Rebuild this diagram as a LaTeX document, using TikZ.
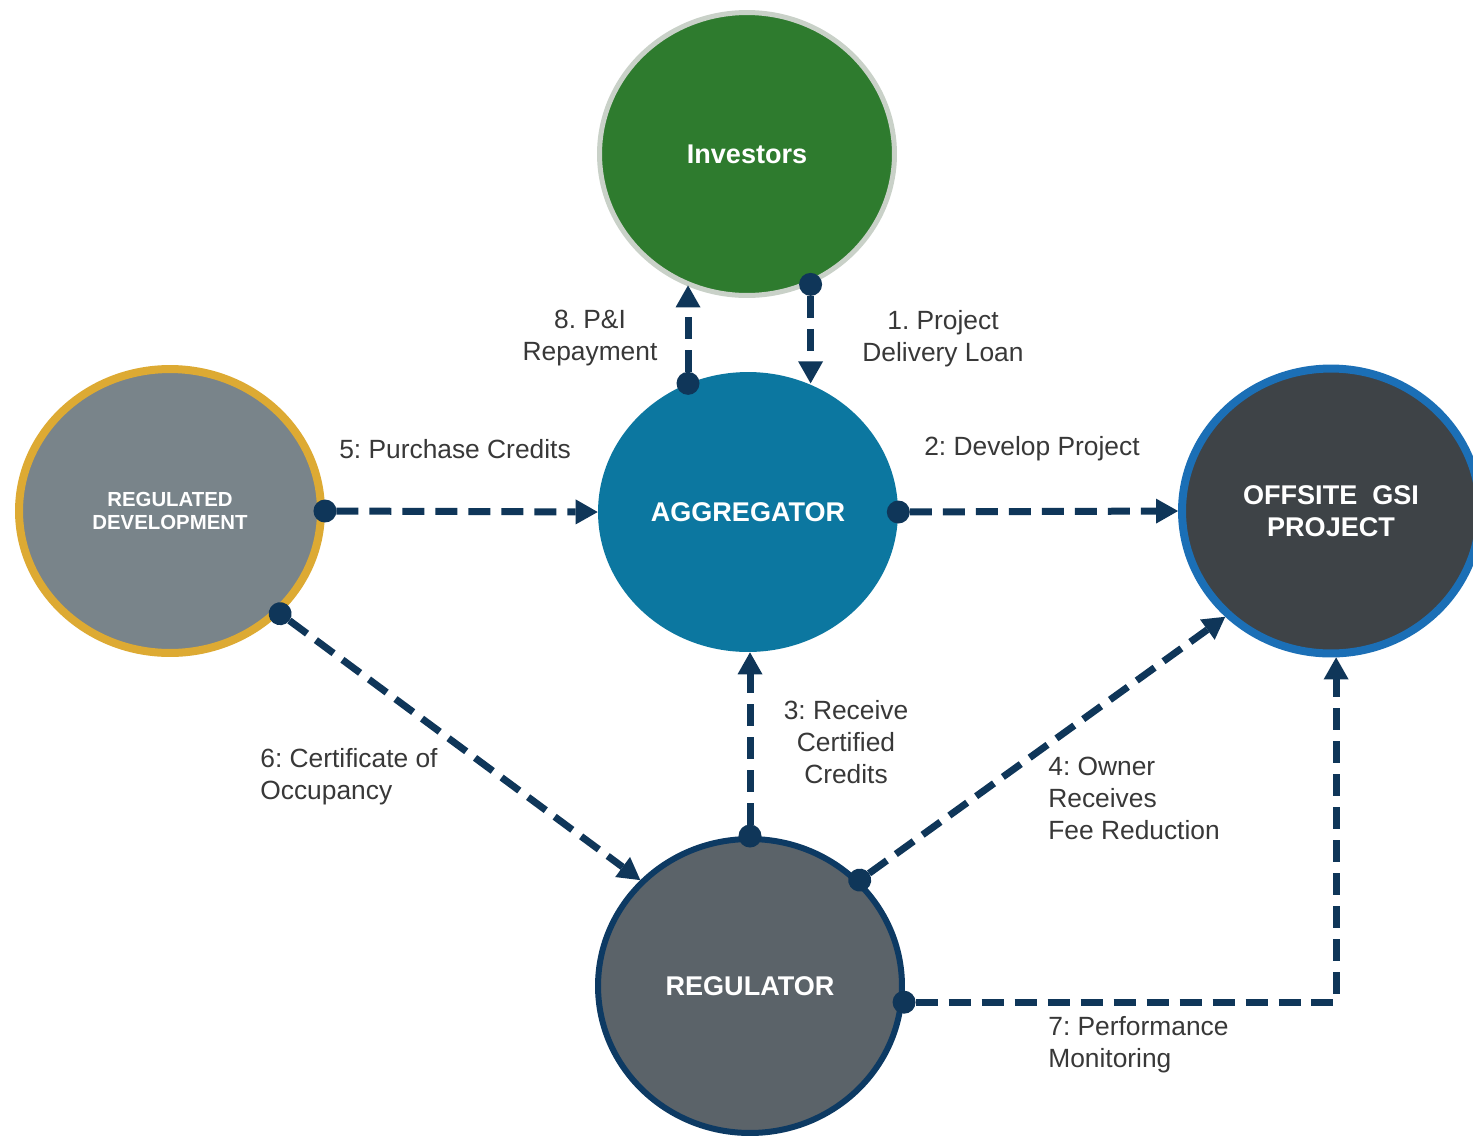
\documentclass[tikz,border=0pt]{standalone}
\usepackage{fontspec}
\setmainfont{Liberation Sans}
\usetikzlibrary{arrows.meta,shapes.geometric}
\frenchspacing

\definecolor{invgreen}{HTML}{2E7B2E}
\definecolor{invring}{HTML}{C9D1C8}
\definecolor{aggblue}{HTML}{0C77A0}
\definecolor{devgray}{HTML}{79848A}
\definecolor{devgold}{HTML}{DDAA33}
\definecolor{gsidark}{HTML}{3E4347}
\definecolor{gsiblue}{HTML}{1B6FB6}
\definecolor{reggray}{HTML}{5B6369}
\definecolor{regnavy}{HTML}{0D3A63}
\definecolor{flowc}{HTML}{0F3659}
\definecolor{labelc}{HTML}{383838}

\tikzset{
  ball/.style={ellipse, inner sep=0pt, text=white, align=center,
    font=\bfseries\fontsize{15.4}{18.2}\selectfont},
  flow/.style={draw=flowc, line width=0.14cm,
    dash pattern=on 0.44cm off 0.22cm,
    {Circle[length=0.46cm,line width=0pt]}-{Triangle[length=0.44cm,width=0.5cm,line width=0pt]},
    shorten <=-0.23cm},
  lbl/.style={text=labelc, inner sep=0pt, align=center,
    font=\fontsize{15}{18.2}\selectfont}
}

\begin{document}
\begin{tikzpicture}[x=0.02cm,y=-0.02cm]
  \fill[white] (0,0) rectangle (1473,1140);
  \useasboundingbox (0,0) rectangle (1473,1140);
  \clip (0,0) rectangle (1473,1140);

  % parties
  \node[ball, fill=invgreen, draw=invring, line width=0.1cm,
        minimum width=5.9cm, minimum height=5.66cm] (inv) at (747,154) {Investors};
  \node[ball, fill=aggblue,
        minimum width=6cm, minimum height=5.6cm] (agg) at (748,512) {AGGREGATOR};
  \node[ball, fill=devgray, draw=devgold, line width=0.16cm,
        minimum width=6.04cm, minimum height=5.68cm,
        font=\bfseries\fontsize{11.6}{13.6}\selectfont] (dev) at (170,511) {REGULATED\\DEVELOPMENT};
  \node[ball, fill=gsidark, draw=gsiblue, line width=0.16cm,
        minimum width=5.96cm, minimum height=5.7cm] (gsi) at (1331,511) {OFFSITE\ \ GSI\\PROJECT};
  \node[ball, fill=reggray, draw=regnavy, line width=0.12cm,
        minimum width=6.08cm, minimum height=5.88cm] (reg) at (750,986) {REGULATOR};

  % flows
  \draw[flow] (agg.115) -- (agg.115 |- inv.245);
  \draw[flow] (inv.296) -- (inv.296 |- agg.65);
  \draw[flow] (dev.east) -- (agg.west);
  \draw[flow] (agg.east) -- (gsi.west);
  \draw[flow] (dev.-43) -- (reg.136);
  \draw[flow] (reg.north) -- (reg.north |- agg.south);
  \draw[flow] (reg.44) -- (gsi.225);
  \draw[flow] (reg.-6) -| (gsi.272);

  % flow labels
  \node[lbl] (l8) at (590,338) {8. P\&I\\Repayment};
  \node[lbl] (l1) at (943,339) {1. Project\\Delivery Loan};
  \node[lbl] (l5) at (455,449) {5: Purchase Credits};
  \node[lbl] (l2) at (1032,449) {2: Develop Project};
  \node[lbl] (l3) at (846,742) {3: Receive\\Certified\\Credits};
  \node[lbl, align=left, anchor=west] (l6) at (260,777) {6: Certificate of\\Occupancy};
  \node[lbl, align=left, anchor=west] (l4) at (1048,798) {4: Owner\\Receives\\Fee Reduction};
  \node[lbl, align=left, anchor=west] (l7) at (1048,1045) {7: Performance\\Monitoring};
\end{tikzpicture}
\end{document}
